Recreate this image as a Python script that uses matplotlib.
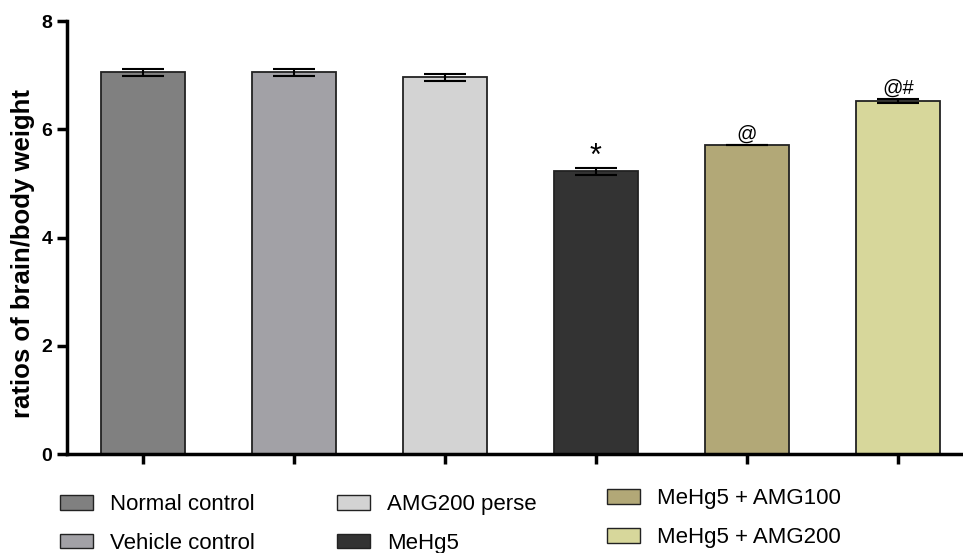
import numpy as np
import matplotlib.pyplot as plt
from matplotlib.patches import Patch

plt.rcParams['font.family'] = ['Liberation Sans', 'DejaVu Sans']

groups = ['Normal control', 'Vehicle control', 'AMG200 perse',
          'MeHg5', 'MeHg5 + AMG100', 'MeHg5 + AMG200']
means = [7.05, 7.05, 6.96, 5.22, 5.71, 6.52]
errs = [0.065, 0.065, 0.07, 0.065, 0.0, 0.03]
marks = ['', '', '', '*', '@', '@#']
colors = ['#808080', '#a2a1a6', '#d3d3d3', '#333333', '#b2a877', '#d7d79b']

fig = plt.figure(figsize=(9.63, 5.53), dpi=100)
ax = fig.add_axes([0.0696, 0.179, 0.9304, 0.783])

x = np.arange(len(groups))
ax.bar(x, means, width=0.556, color=colors, edgecolor='#222222', linewidth=1.3, zorder=2)
ax.errorbar(x, means, yerr=errs, fmt='none', ecolor='black', elinewidth=1.5,
            capsize=15, capthick=1.5, zorder=3)
for xi, m, e, s in zip(x, means, errs, marks):
    if s == '*':
        ax.text(xi, m + e - 0.08, s, ha='center', va='bottom', fontsize=22)
    elif s:
        ax.text(xi, m + e + 0.03, s, ha='center', va='bottom', fontsize=14.5)

ax.set_xlim(-0.5, 5.43)
ax.set_ylim(0, 8)
ax.set_yticks([0, 2, 4, 6, 8])
ax.set_xticks(x)
ax.set_xticklabels([])
for lab in ax.get_yticklabels():
    lab.set_fontweight('bold')
    lab.set_fontsize(14)
ax.set_ylabel('ratios of brain/body weight', fontsize=18.5, fontweight='bold')
ax.yaxis.set_label_coords(-0.036, 0.464)

ax.spines['right'].set_visible(False)
ax.spines['top'].set_visible(False)
ax.spines['left'].set_linewidth(2.5)
ax.spines['bottom'].set_linewidth(2.5)
ax.tick_params(axis='both', width=2.5, length=7, direction='out')

# legend, three columns
cols = [(0, 2, 60 / 963, 0.0525), (2, 4, 337 / 963, 0.0525), (4, 6, 607 / 963, 0.063)]
for a, b, lx, ly in cols:
    handles = [Patch(facecolor=colors[i], edgecolor='#222222', linewidth=1.0) for i in range(a, b)]
    leg = fig.legend(handles, groups[a:b], loc='center left', bbox_to_anchor=(lx, ly),
                     frameon=False, fontsize=16, borderpad=0, borderaxespad=0,
                     handlelength=1.5, handleheight=0.63,
                     labelspacing=0.8, handletextpad=0.77)

fig.savefig('out.png', dpi=100)
